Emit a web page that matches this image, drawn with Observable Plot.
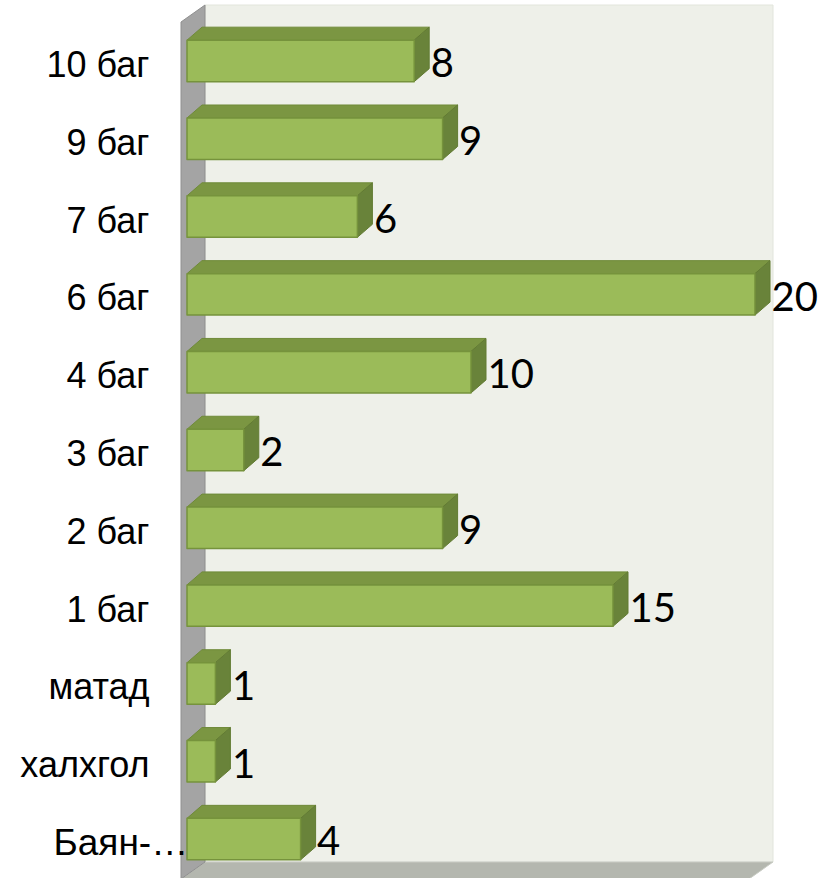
<!DOCTYPE html>
<html><head><meta charset="utf-8">
<script src="https://cdn.jsdelivr.net/npm/d3@7"></script>
<script src="https://cdn.jsdelivr.net/npm/@observablehq/plot@0.6"></script>
<style>html,body{margin:0;padding:0;background:#fff}</style>
</head><body><div id="chart"></div>
<script>
const categories = ["10 баг","9 баг","7 баг","6 баг","4 баг","3 баг","2 баг","1 баг","матад","халхгол","Баян-…"];
const values = [8, 9, 6, 20, 10, 2, 9, 15, 1, 1, 4];
const xDomain = [0, 20];
const truncatedLabel = "Баян-…";

const data = categories.map((c, i) => ({category: c, value: values[i]}));

const BAR_DX = 15, BAR_DY = 13;     // bar depth
const ROOM_BACK = 18, ROOM_FRONT = 6, ROOM_DY = 17; // room depth

function findScales(args) {
  return args.find(a => a && typeof a.x === "function" && typeof a.y === "function");
}
function findDims(args) {
  return args.find(a => a && typeof a === "object" && "marginLeft" in a && "width" in a);
}
const svgNS = "http://www.w3.org/2000/svg";
function poly(g, pts, fill, stroke, sw) {
  const p = document.createElementNS(svgNS, "polygon");
  p.setAttribute("points", pts.map(q => q.join(",")).join(" "));
  p.setAttribute("fill", fill);
  if (stroke) { p.setAttribute("stroke", stroke); p.setAttribute("stroke-width", sw || 1); p.setAttribute("stroke-linejoin", "round"); }
  g.appendChild(p);
}

function roomMark(...args) {
  const s = findScales(args), d = findDims(args);
  const g = document.createElementNS(svgNS, "g");
  const x0 = s.x(xDomain[0]), x1 = s.x(xDomain[1]);
  const top = d.marginTop - ROOM_DY;
  const bottom = d.height - d.marginBottom - 16;
  const wl = x0 + ROOM_BACK, wr = x1 + ROOM_BACK;
  // back wall
  poly(g, [[wl, top], [wr, top], [wr, bottom], [wl, bottom]], "#eef0e9", "#e2e5dc", 1);
  // floor
  poly(g, [[wl, bottom], [wr, bottom], [wr - ROOM_BACK - ROOM_FRONT, bottom + ROOM_DY], [x0 - ROOM_FRONT, bottom + ROOM_DY]], "#b4b7af", "#c9ccc4", 1);
  // side wall
  poly(g, [[x0 - ROOM_FRONT, top + ROOM_DY], [wl, top], [wl, bottom], [x0 - ROOM_FRONT, bottom + ROOM_DY]], "#a4a4a4", "#8f8f8f", 1);
  return g;
}

function barsMark(...args) {
  const s = findScales(args);
  const g = document.createElementNS(svgNS, "g");
  const bw = typeof s.y.bandwidth === "function" ? s.y.bandwidth() : 41.5;
  for (const row of data) {
    const xa = s.x(0), xb = s.x(row.value);
    const yt = s.y(row.category), yb = yt + bw;
    // top face
    poly(g, [[xa, yt], [xb, yt], [xb + BAR_DX, yt - BAR_DY], [xa + BAR_DX, yt - BAR_DY]], "#7b9642", "#6f8a39", 1);
    // right face
    poly(g, [[xb, yt], [xb + BAR_DX, yt - BAR_DY], [xb + BAR_DX, yb - BAR_DY], [xb, yb]], "#69833a", "#627b33", 1);
    // front face
    poly(g, [[xa, yt], [xb, yt], [xb, yb], [xa, yb]], "#9bbb59", "#76933c", 1.5);
  }
  return g;
}

const labelFont = "'Liberation Sans', Arial, sans-serif";
const chart = Plot.plot({
  width: 826,
  height: 878,
  marginLeft: 187,
  marginRight: 71,
  marginTop: 22,
  marginBottom: 0,
  style: {background: "#ffffff", fontFamily: labelFont, fontSize: "36px", color: "#000"},
  x: {domain: xDomain, axis: null},
  y: {type: "band", domain: categories, round: false, paddingInner: 0.467, paddingOuter: 0.2335, axis: null},
  marks: [
    roomMark,
    barsMark,
    Plot.text(data, {x: "value", y: "category", text: d => String(d.value), dx: 16, dy: 3,
      textAnchor: "start", fontSize: 40, fontFamily: "Lato, 'Open Sans', sans-serif", fill: "#000"}),
    Plot.text(data.filter(d => d.category !== truncatedLabel), {x: () => 0, y: "category", text: "category",
      dx: -38, dy: 4, textAnchor: "end", fontSize: 36, fontFamily: labelFont, fill: "#000"}),
    Plot.text(data.filter(d => d.category === truncatedLabel), {x: () => 0, y: "category", text: "category",
      dx: -134, dy: 4, textAnchor: "start", fontSize: 37, fontFamily: labelFont, fill: "#000"})
  ]
});
document.getElementById("chart").appendChild(chart);
</script>
</body></html>
